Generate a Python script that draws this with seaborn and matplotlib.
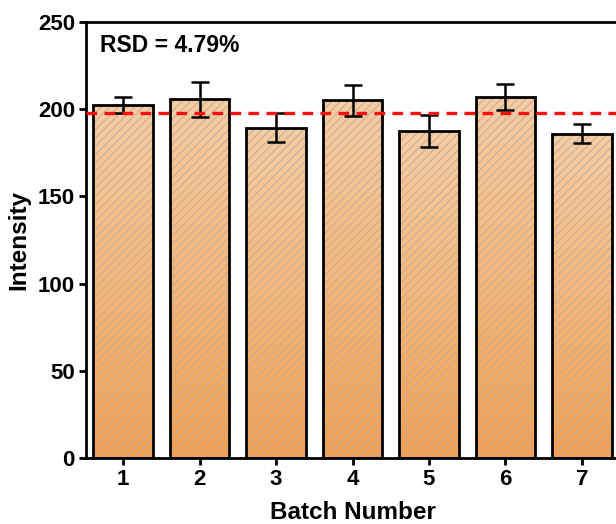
import numpy as np
import pandas as pd
import matplotlib
matplotlib.use("Agg")
import matplotlib.pyplot as plt
from matplotlib.patches import Rectangle
from matplotlib.colors import LinearSegmentedColormap
import seaborn as sns

batches = ["1", "2", "3", "4", "5", "6", "7"]
intensity = [202.5, 205.8, 189.5, 205.0, 187.5, 207.0, 186.0]
errors = [4.5, 10.0, 8.5, 8.8, 9.3, 7.4, 5.3]
rsd_label = "RSD = 4.79%"
y_ticks = [0, 50, 100, 150, 200, 250]

sns.set_style("ticks")
plt.rcParams["font.family"] = ["Liberation Sans", "DejaVu Sans"]
plt.rcParams["font.weight"] = "bold"
plt.rcParams["hatch.linewidth"] = 0.75
plt.rcParams["text.color"] = "black"
plt.rcParams["axes.labelcolor"] = "black"
plt.rcParams["xtick.color"] = "black"
plt.rcParams["ytick.color"] = "black"

df = pd.DataFrame({"Batch": batches, "Intensity": intensity})

fig = plt.figure(figsize=(6.16, 5.24), dpi=100)
ax = fig.add_axes([86 / 616, 66 / 524, 533 / 616, 436 / 524])

sns.barplot(data=df, x="Batch", y="Intensity", ax=ax, width=0.78,
            facecolor="none", edgecolor="black", linewidth=2.0,
            errorbar=None, zorder=3)

cmap = LinearSegmentedColormap.from_list("peach", ["#F2A050", "#F7CDA5"])
grad = np.linspace(0, 1, 256).reshape(-1, 1)
for p in list(ax.patches):
    x0, y0 = p.get_x(), p.get_y()
    w, h = p.get_width(), p.get_height()
    im = ax.imshow(grad, cmap=cmap, origin="lower", aspect="auto",
                   extent=[x0, x0 + w, y0, y0 + h], zorder=1)
    im.set_clip_path(p)
    ax.add_patch(Rectangle((x0, y0), w, h, facecolor="none",
                           edgecolor="#C4AE9A", linewidth=0, hatch="////",
                           zorder=2))

xs = np.arange(len(batches))
ax.errorbar(xs, intensity, yerr=errors, fmt="none", ecolor="black",
            elinewidth=1.8, capsize=6.5, capthick=1.8, zorder=4)

ax.axhline(np.mean(intensity), color="#FF1010", linestyle=(0, (3.2, 2.2)),
           linewidth=2.4, zorder=5)

ax.set_xlim(-0.484, 6.484)
ax.set_ylim(0, 250)
ax.set_yticks(y_ticks)
ax.set_yticklabels([str(t) for t in y_ticks])

for s in ["left", "bottom", "top", "right"]:
    ax.spines[s].set_visible(True)
    ax.spines[s].set_linewidth(2.0)
    ax.spines[s].set_color("black")

ax.tick_params(axis="both", direction="out", length=5, width=2,
               labelsize=16, pad=3, colors="black")
ax.tick_params(axis="x", top=False)
ax.tick_params(axis="y", right=False)
for lab in ax.get_xticklabels() + ax.get_yticklabels():
    lab.set_fontweight("bold")

ax.set_xlabel("Batch Number", fontsize=17.5, fontweight="bold", labelpad=8)
ax.set_ylabel("Intensity", fontsize=17.5, fontweight="bold", labelpad=5)

ax.text(0.026, 0.945, rsd_label, transform=ax.transAxes, fontsize=16.5,
        fontweight="bold", ha="left", va="center")

fig.savefig("out.png", dpi=100)
